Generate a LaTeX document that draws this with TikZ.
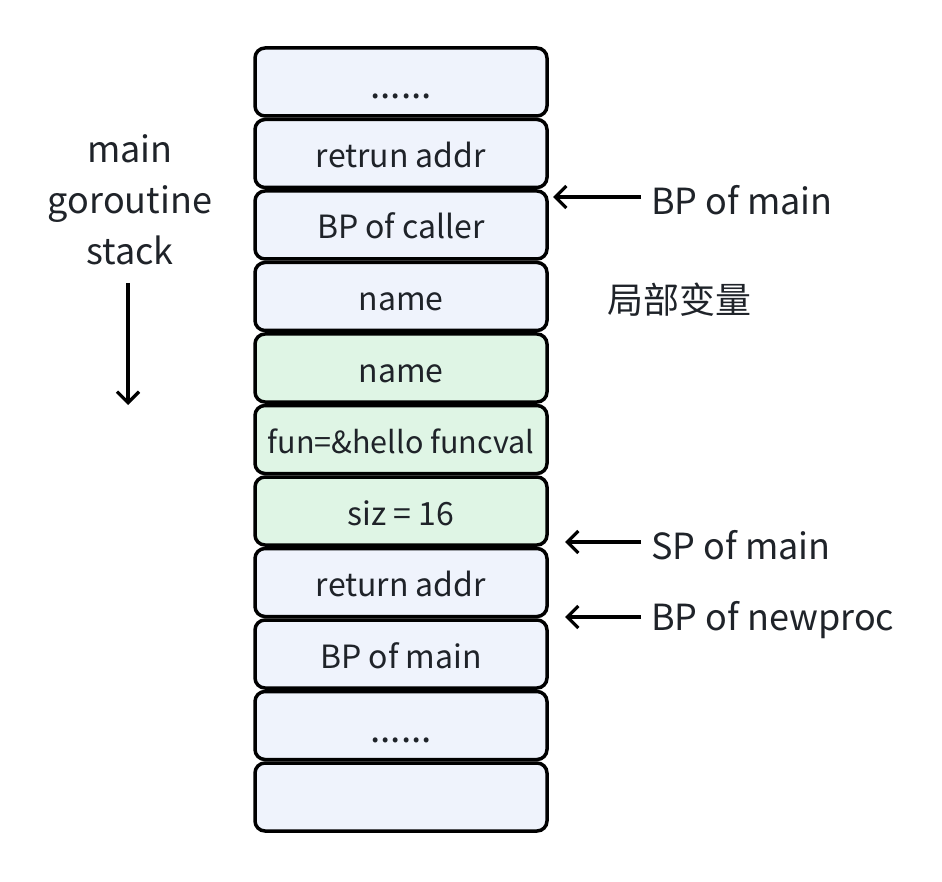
\documentclass[tikz,border=0pt]{standalone}
\usepackage{fontspec}
\setmainfont{Noto Sans CJK SC}
\usetikzlibrary{arrows.meta}
\definecolor{txt}{HTML}{1F2329}
\definecolor{blueF}{HTML}{EFF3FC}
\definecolor{greenF}{HTML}{DFF5E5}
\begin{document}
\begin{tikzpicture}[x=1pt,y=-1pt,
  cell/.style={draw=black, line width=3.5pt, rounded corners=10pt, minimum width=292pt, minimum height=68pt, inner sep=0pt, text=txt, font=\fontsize{32}{38}\selectfont, text height=38pt, text depth=10pt},
  dots/.style={text height=42pt, text depth=8pt, font=\fontsize{37}{40}\selectfont},
  bcell/.style={cell, fill=blueF},
  gcell/.style={cell, fill=greenF},
  lbl/.style={text=txt, font=\fontsize{36}{43}\selectfont, inner sep=0pt},
  ptr/.style={line width=3.2pt, -{Straight Barb[length=11pt,width=22pt,line width=3.2pt]}}
]
\useasboundingbox (0,0) rectangle (942,882);
\node[bcell, dots] (c1) at (401,82) {......};
\node[bcell] (c2) at (401,153.5) {retrun addr};
\node[bcell] (c3) at (401,225) {BP of caller};
\node[bcell] (c4) at (401,296.5) {name};
\node[gcell] (c5) at (401,368) {name};
\node[gcell] (c6) at (401,439.5) {\fontsize{30.5}{38}\selectfont fun=\&hello funcval};
\node[gcell] (c7) at (401,511) {siz = 16};
\node[bcell] (c8) at (401,582.5) {return addr};
\node[bcell] (c9) at (401,654) {BP of main};
\node[bcell, dots] (c10) at (401,725.5) {......};
\node[bcell] (c11) at (401,797) {};

\node[lbl, anchor=west] (l1) at (651,200) {BP of main};
\node[lbl, anchor=west] (l2) at (607,300) {局部变量};
\node[lbl, anchor=west] (l3) at (651,545) {SP of main};
\node[lbl, anchor=west] (l4) at (651,620) {BP of newproc};
\coordinate (t1) at (553,197);
\coordinate (t3) at (565,542);
\coordinate (t4) at (565,617);
\draw[ptr] (l1.west |- t1) ++(-10,0) -- (t1);
\draw[ptr] (l3.west |- t3) ++(-10,0) -- (t3);
\draw[ptr] (l4.west |- t4) ++(-10,0) -- (t4);

\node[lbl, align=center, font=\fontsize{36}{51}\selectfont] (stk) at (130,200) {main\\goroutine\\stack};
\coordinate (s1) at (128,283);
\coordinate (s2) at (128,405);
\draw[ptr] (s1) -- (s2);
\end{tikzpicture}
\end{document}
